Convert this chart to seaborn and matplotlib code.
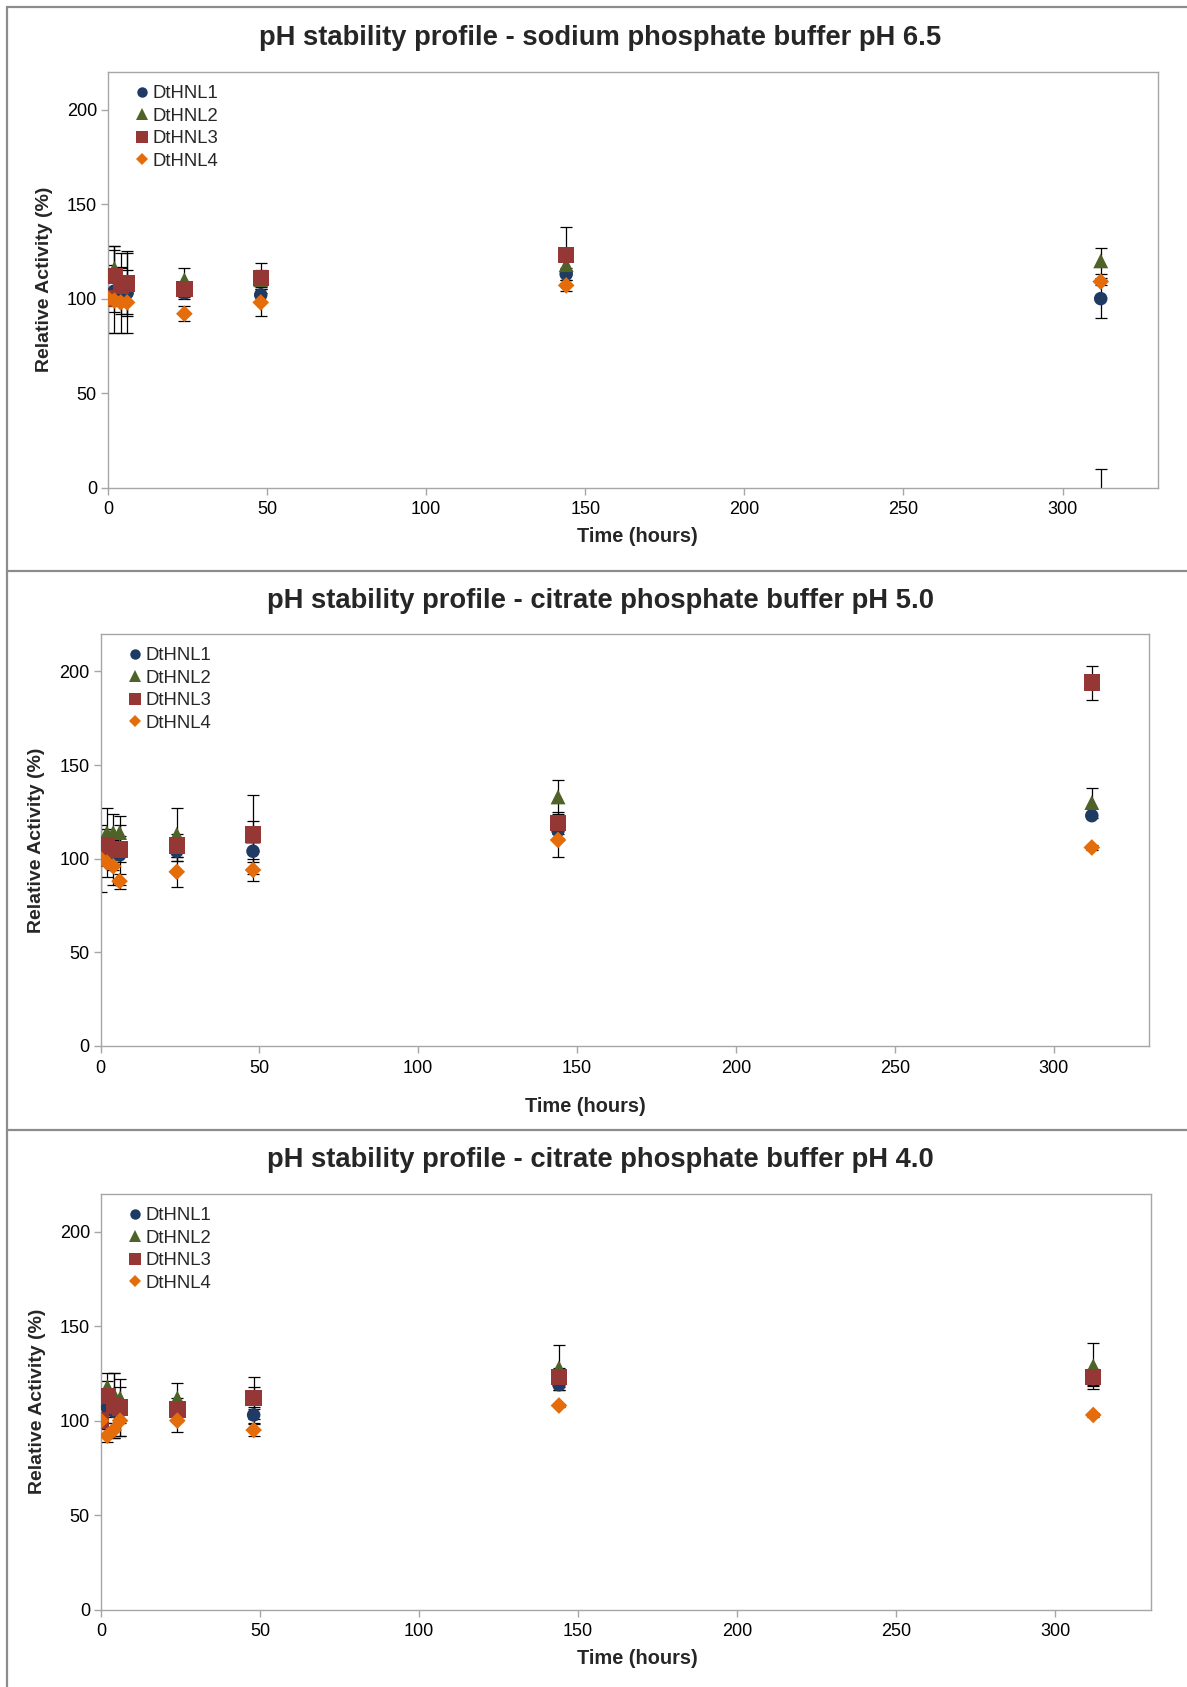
import numpy as np
import pandas as pd
import matplotlib
matplotlib.use("Agg")
import matplotlib.pyplot as plt
from matplotlib.lines import Line2D
import seaborn as sns

sns.set_theme(style="white")
plt.rcParams['font.family'] = ['Liberation Sans', 'DejaVu Sans']

# ---------------- data ----------------
series = ["DtHNL1", "DtHNL2", "DtHNL3", "DtHNL4"]
times = [0, 2, 4, 6, 24, 48, 144, 312]

titles = [
    "pH stability profile - sodium phosphate buffer pH 6.5",
    "pH stability profile - citrate phosphate buffer pH 5.0",
    "pH stability profile - citrate phosphate buffer pH 4.0",
]

# panel 1: sodium phosphate pH 6.5
p1_vals = {
    "DtHNL1": [100, 104, 103, 103, 103, 102, 113, 100],
    "DtHNL2": [100, 116, 110, 109, 110, 110, 118, 120],
    "DtHNL3": [100, 112, 107, 108, 105, 111, 123, -10],
    "DtHNL4": [100, 99, 98, 98, 92, 98, 107, 109],
}
p1_errs = {
    "DtHNL1": [0, 22, 21, 21, 3, 4, 3, 10],
    "DtHNL2": [0, 12, 6, 6, 6, 5, 4, 7],
    "DtHNL3": [0, 16, 10, 17, 4, 8, 15, 20],
    "DtHNL4": [18, 6, 6, 6, 4, 7, 3, 2],
}

# panel 2: citrate phosphate pH 5.0
p2_vals = {
    "DtHNL1": [100, 104, 102, 102, 104, 104, 115, 123],
    "DtHNL2": [100, 114, 114, 114, 113, 112, 133, 130],
    "DtHNL3": [100, 107, 105, 105, 107, 113, 119, 194],
    "DtHNL4": [100, 98, 96, 88, 93, 94, 110, 106],
}
p2_errs = {
    "DtHNL1": [0, 6, 8, 16, 5, 6, 4, 0],
    "DtHNL2": [0, 13, 10, 9, 14, 8, 9, 8],
    "DtHNL3": [0, 9, 8, 7, 6, 21, 6, 9],
    "DtHNL4": [18, 8, 10, 4, 8, 6, 9, 1.5],
}

# panel 3: citrate phosphate pH 4.0
p3_vals = {
    "DtHNL1": [100, 107, 105, 105, 104, 103, 119, 122],
    "DtHNL2": [100, 118, 114, 112, 112, 112, 128, 129],
    "DtHNL3": [100, 113, 108, 107, 106, 112, 123, 123],
    "DtHNL4": [100, 92, 95, 100, 100, 95, 108, 103],
}
p3_errs = {
    "DtHNL1": [0, 5, 6, 6, 4, 4, 3, 3],
    "DtHNL2": [0, 7, 11, 6, 8, 6, 12, 12],
    "DtHNL3": [0, 8, 17, 15, 6, 11, 5, 4.5],
    "DtHNL4": [3, 3.5, 4, 8, 6, 3, 1, 1],
}

panels = [(p1_vals, p1_errs), (p2_vals, p2_errs), (p3_vals, p3_errs)]

colors = {"DtHNL1": "#1F3A63", "DtHNL2": "#4F6228", "DtHNL3": "#953735", "DtHNL4": "#E46C0A"}
markers = {"DtHNL1": "o", "DtHNL2": "^", "DtHNL3": "s", "DtHNL4": "D"}
msizes = {"DtHNL1": 95, "DtHNL2": 115, "DtHNL3": 140, "DtHNL4": 72}

# ---------------- layout (pixels) ----------------
W, H = 1187, 1687
fig = plt.figure(figsize=(W / 100, H / 100), dpi=100)

# axes boxes: left, right, top, bottom (pixels from top-left)
boxes = [
    (108, 1158, 72, 487.5),
    (100.5, 1149, 634, 1046),
    (101, 1150.5, 1194, 1609.5),
]
title_y = [38, 601, 1160]
xlabel_x = [637, 585, 637]
xlabel_y = [536, 1107, 1659]
panel_lines = [7, 571, 1130]

gray = "#A6A6A6"
border = "#8C8C8C"

# panel borders
for y in panel_lines:
    fig.add_artist(Line2D([7 / W, 1], [1 - y / H, 1 - y / H], color=border, lw=1.6,
                          transform=fig.transFigure))
fig.add_artist(Line2D([7 / W, 7 / W], [1 - 7 / H, 0], color=border, lw=1.6,
                      transform=fig.transFigure))

for i, ((vals, errs), (l, r, t, b)) in enumerate(zip(panels, boxes)):
    ax = fig.add_axes([l / W, 1 - b / H, (r - l) / W, (b - t) / H])
    rows = []
    for s in series:
        for tt, v, e in zip(times, vals[s], errs[s]):
            rows.append({"Time": tt, "Activity": v, "err": e, "Enzyme": s})
    df = pd.DataFrame(rows)

    for s in series:
        d = df[df["Enzyme"] == s]
        de = d[d["err"] > 0]
        ax.errorbar(de["Time"], de["Activity"], yerr=de["err"], fmt="none",
                    ecolor="black", elinewidth=0.9, capsize=4, capthick=0.9, zorder=2)
        sns.scatterplot(data=d, x="Time", y="Activity", ax=ax, marker=markers[s],
                        color=colors[s], s=msizes[s], edgecolor="none",
                        linewidth=0, zorder=3, legend=False)

    ax.set_xlim(0, 330)
    ax.set_ylim(0, 220)
    ax.set_xticks([0, 50, 100, 150, 200, 250, 300])
    ax.set_yticks([0, 50, 100, 150, 200])
    for sp in ax.spines.values():
        sp.set_color(gray)
        sp.set_linewidth(1.0)
    ax.tick_params(axis="both", which="both", direction="out", length=5, width=1,
                   color=gray, labelsize=13, labelcolor="black", pad=5)
    ax.tick_params(axis="y", pad=3)
    ax.tick_params(left=True, bottom=True)
    ax.set_xlabel("")
    ax.set_ylabel("Relative Activity (%)", fontsize=14, fontweight="bold", labelpad=10)
    ax.grid(False)

    fig.text(xlabel_x[i] / W, 1 - xlabel_y[i] / H,
             "Time (hours)", ha="center", va="center",
             fontsize=14.4, fontweight="bold")
    fig.text(0.506, 1 - title_y[i] / H, titles[i], ha="center", va="center",
             fontsize=19.7, fontweight="bold")

    handles = [Line2D([], [], linestyle="none", marker=markers[s], color=colors[s],
                      markersize={"o": 7.5, "^": 8, "s": 8, "D": 6}[markers[s]],
                      markeredgewidth=0) for s in series]
    leg = ax.legend(handles, series, loc="upper left", bbox_to_anchor=(0.017, 0.995),
                    frameon=False, fontsize=13.3, handlelength=0.6, handletextpad=0.25,
                    labelspacing=0.3, borderaxespad=0.2)

fig.savefig("out.png", dpi=100)
